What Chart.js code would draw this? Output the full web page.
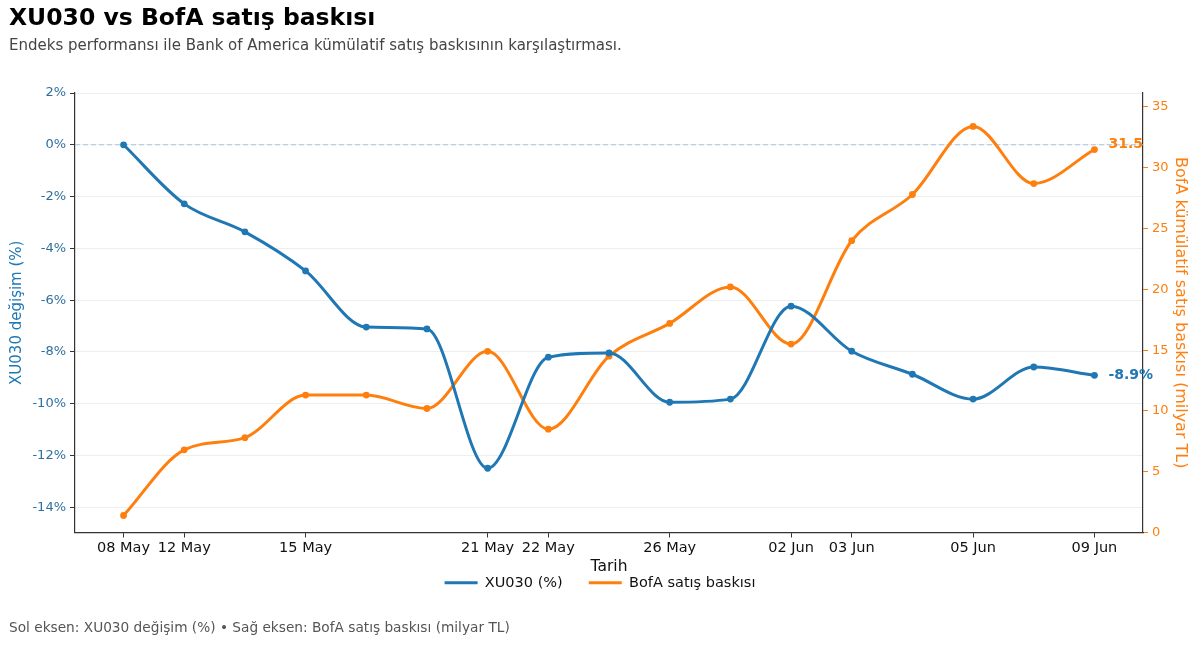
<!DOCTYPE html>
<html><head><meta charset="utf-8">
<script src="https://cdn.jsdelivr.net/npm/chart.js@4.4.1/dist/chart.umd.min.js"></script>
<style>html,body{margin:0;padding:0;background:#fff}#wrap{width:1200px;height:645px}</style>
</head><body><div id="wrap"><canvas id="c" width="1200" height="645"></canvas></div>
<script>
const dates = ['08 May','12 May','13 May','15 May','16 May','20 May','21 May','22 May','23 May','26 May','28 May','02 Jun','03 Jun','04 Jun','05 Jun','06 Jun','09 Jun'];
const shownDates = ['08 May','12 May','15 May','21 May','22 May','26 May','02 Jun','03 Jun','05 Jun','09 Jun'];
const xu030 = [0, -2.28, -3.36, -4.87, -7.04, -7.11, -12.49, -8.2, -8.04, -9.94, -9.82, -6.23, -7.97, -8.86, -9.82, -8.58, -8.9];
const bofa = [1.4, 6.8, 7.8, 11.3, 11.3, 10.2, 14.9, 8.5, 14.5, 17.2, 20.2, 15.5, 24.0, 27.8, 33.4, 28.7, 31.5];
const leftTicks = [-14,-12,-10,-8,-6,-4,-2,0,2];
const rightTicks = [0,5,10,15,20,25,30,35];

const BLUE = '#1f77b4', ORANGE = '#ff7f0e';
const FONT = "'DejaVu Sans', sans-serif";

const legendShift = {
  id: 'legendShift',
  afterLayout(chart) {
    const l = chart.legend;
    if (l) { l.top -= 23; l.bottom -= 23; }
  }
};

const textPlugin = {
  id: 'texts',
  beforeDatasetsDraw(chart) {
    const {ctx, chartArea, scales} = chart;
    const y0 = scales.y.getPixelForValue(0);
    ctx.save();
    ctx.strokeStyle = '#a3c5df';
    ctx.lineWidth = 1;
    ctx.setLineDash([5, 3]);
    ctx.beginPath(); ctx.moveTo(chartArea.left, y0); ctx.lineTo(chartArea.right, y0); ctx.stroke();
    ctx.restore();
  },
  afterDraw(chart) {
    const {ctx, scales} = chart;
    ctx.save();
    ctx.textBaseline = 'middle';
    ctx.textAlign = 'left';
    ctx.fillStyle = '#000';
    ctx.font = 'bold 23.5px ' + FONT;
    ctx.fillText('XU030 vs BofA satış baskısı', 9, 19);
    ctx.fillStyle = '#444';
    ctx.font = '15px ' + FONT;
    ctx.fillText('Endeks performansı ile Bank of America kümülatif satış baskısının karşılaştırması.', 9, 46);
    ctx.fillStyle = '#555';
    ctx.font = '13.7px ' + FONT;
    ctx.fillText('Sol eksen: XU030 değişim (%) • Sağ eksen: BofA satış baskısı (milyar TL)', 9, 628);
    // end labels
    const n = dates.length - 1;
    const xl = scales.x.getPixelForValue(n) + 14;
    ctx.font = 'bold 14px ' + FONT;
    ctx.fillStyle = BLUE;
    ctx.fillText(xu030[n].toFixed(1) + '%', xl, scales.y.getPixelForValue(xu030[n]));
    ctx.fillStyle = ORANGE;
    ctx.fillText(bofa[n].toFixed(1), xl, scales.y2.getPixelForValue(bofa[n]) - 5);
    ctx.restore();
  }
};

new Chart(document.getElementById('c'), {
  type: 'line',
  data: {
    datasets: [
      { label: 'XU030 (%)', data: xu030.map((v, i) => ({x: i, y: v})), yAxisID: 'y',
        borderColor: BLUE, backgroundColor: BLUE, borderWidth: 3, pointRadius: 3.4, pointBorderWidth: 0, pointHoverRadius: 3.4,
        cubicInterpolationMode: 'monotone' },
      { label: 'BofA satış baskısı', data: bofa.map((v, i) => ({x: i, y: v})), yAxisID: 'y2',
        borderColor: ORANGE, backgroundColor: ORANGE, borderWidth: 3, pointRadius: 3.4, pointBorderWidth: 0, pointHoverRadius: 3.4,
        cubicInterpolationMode: 'monotone' }
    ]
  },
  options: {
    responsive: false,
    animation: false,
    layout: { padding: { top: 93, left: 0, right: 0, bottom: 22 } },
    plugins: {
      legend: {
        position: 'bottom',
        labels: {
          font: { family: FONT, size: 14.5 }, color: '#111',
          boxWidth: 33, boxHeight: 3, padding: 26,
          generateLabels(chart) {
            return chart.data.datasets.map((d, i) => ({
              text: d.label, fillStyle: d.borderColor, strokeStyle: d.borderColor, lineWidth: 0, datasetIndex: i, fontColor: '#111'
            }));
          }
        }
      },
      tooltip: { enabled: false }
    },
    scales: {
      x: {
        type: 'linear', min: -0.8, max: dates.length - 1 + 0.8,
        afterBuildTicks(scale) {
          scale.ticks = shownDates.map(d => ({ value: dates.indexOf(d) }));
        },
        afterFit(scale) { scale.height = 40; },
        ticks: { callback: (v) => dates[v], font: { family: FONT, size: 14.5 }, color: '#111', maxRotation: 0, autoSkip: false, padding: 2 },
        grid: { drawOnChartArea: false, drawTicks: true, tickLength: 5, color: '#333' },
        border: { display: true, color: '#333', width: 1.2 },
        title: { display: true, text: 'Tarih', font: { family: FONT, size: 15.5 }, color: '#111', padding: { top: 0, bottom: -3.6 } }
      },
      y: {
        position: 'left', min: -14.97, max: 2,
        afterBuildTicks(scale) { scale.ticks = leftTicks.map(v => ({ value: v })); },
        afterFit(scale) { scale.width = 75; },
        ticks: { callback: (v) => v + '%', font: { family: FONT, size: 13 }, color: '#2f6f9f', padding: 4 },
        grid: { color: '#eeeeee', tickColor: '#333', tickLength: 5, lineWidth: 1 },
        border: { display: true, color: '#333', width: 1.2 },
        title: { display: true, text: 'XU030 değişim (%)', font: { family: FONT, size: 15 }, color: BLUE, padding: { top: 8, bottom: 0 } }
      },
      y2: {
        position: 'right', min: 0, max: 36.15,
        afterBuildTicks(scale) { scale.ticks = rightTicks.map(v => ({ value: v })); },
        afterFit(scale) { scale.width = 57; },
        ticks: { font: { family: FONT, size: 13 }, color: ORANGE, padding: 4 },
        grid: { drawOnChartArea: false, tickColor: ORANGE, tickLength: 5 },
        border: { display: true, color: '#333', width: 1.2 },
        title: { display: true, text: 'BofA kümülatif satış baskısı (milyar TL)', font: { family: FONT, size: 16 }, color: ORANGE, padding: { top: 10, bottom: 0 } }
      }
    }
  },
  plugins: [legendShift, textPlugin]
});
</script></body></html>
